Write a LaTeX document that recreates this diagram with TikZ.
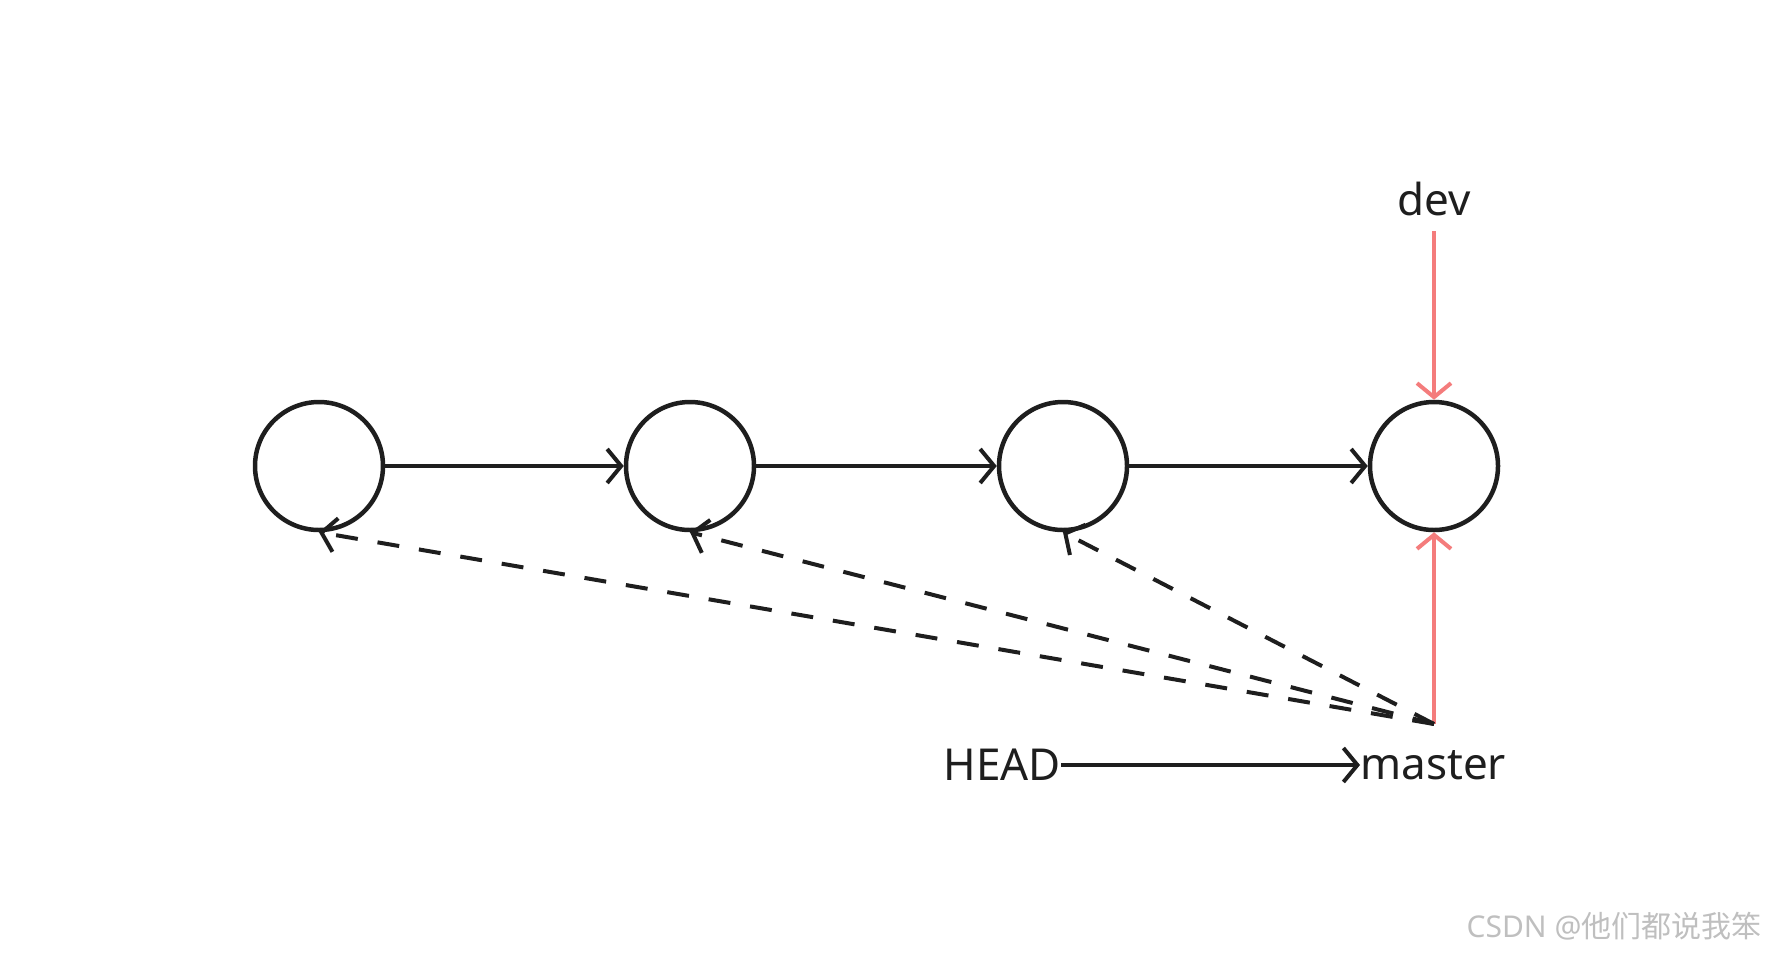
\documentclass[tikz,border=0pt]{standalone}
\usepackage{fontspec}
\setmainfont{Noto Sans}
\newfontfamily\cjk{Noto Sans CJK SC}
\usetikzlibrary{arrows.meta}
\definecolor{pinkred}{HTML}{F47C7C}
\definecolor{ink}{HTML}{1E1E1E}
\begin{document}
\begin{tikzpicture}[x=1pt,y=-1pt,
  commit/.style={circle,draw=ink,line width=4.5pt,minimum size=128pt,inner sep=0pt},
  lbl/.style={font=\fontsize{44}{48}\selectfont,text=ink,inner sep=0pt},
  arr/.style={draw=ink,line width=4pt,-{Straight Barb[length=14pt,width=34pt,line width=4pt]}},
  rarr/.style={draw=pinkred,line width=4pt,-{Straight Barb[length=14pt,width=34pt,line width=4pt]}},
  dashed link/.style={draw=ink,line width=4pt,dash pattern=on 22pt off 20pt,-{Straight Barb[length=14pt,width=34pt,line width=4pt]}}]
\useasboundingbox (0,0) rectangle (1769,956);
\node[commit] (c1) at (319,466) {};
\node[commit] (c2) at (690,466) {};
\node[commit] (c3) at (1063,466) {};
\node[commit] (c4) at (1434,466) {};
\node[lbl] (dev) at (1434,199) {dev};
\node[lbl,anchor=west] (master) at (1360,765) {master};
\node[lbl,anchor=east] (head) at (1061,765) {HEAD};
\coordinate (devend) at (1434,231);
\coordinate (m) at (1434,724);
\node[text=gray!50,font=\fontsize{30}{34}\selectfont,anchor=south east] (wm) at (1765,944) {CSDN @{\cjk 他们都说我笨}};
\draw[arr] (c1) -- (c2);
\draw[arr] (c2) -- (c3);
\draw[arr] (c3) -- (c4);
\draw[rarr] (devend) -- (c4);
\draw[rarr] (m) -- (c4);
\draw[arr] (head.east) -- (master.west);
\draw[dashed link] (m) -- (c1.south);
\draw[dashed link] (m) -- (c2.south);
\draw[dashed link] (m) -- (c3.south);
\end{tikzpicture}
\end{document}
